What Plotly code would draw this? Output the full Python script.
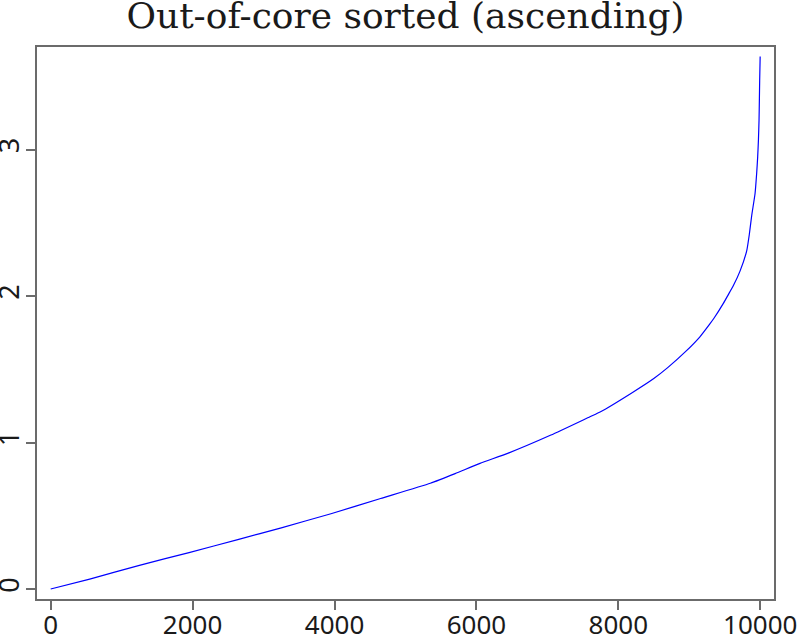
import plotly.graph_objects as go

# values (sorted sample, ascending)
sample_index = [0, 550, 1250, 1950, 2650, 3250, 3950, 4650, 5350, 5700, 6050, 6450,
                7050, 7600, 7750, 8200, 8500, 8700, 8950, 9150, 9290, 9350, 9480,
                9550, 9620, 9715, 9810, 9846, 9880, 9927, 9950, 9964, 9975, 9983,
                9988, 9992, 9999]
sorted_value = [0.0, 0.068, 0.162, 0.249, 0.339, 0.418, 0.514, 0.618, 0.722, 0.788,
                0.858, 0.928, 1.051, 1.176, 1.210, 1.342, 1.437, 1.513, 1.622, 1.722,
                1.81, 1.85, 1.95, 2.01, 2.07, 2.17, 2.31, 2.42, 2.55, 2.70, 2.84,
                2.95, 3.07, 3.20, 3.34, 3.47, 3.635]

x_ticks = [0, 2000, 4000, 6000, 8000, 10000]
x_tick_text = ["0", "2000", "4000", "6000", "8000", "10000"]
y_ticks = [0, 1, 2, 3]

frame_color = "#6b6b6b"
text_color = "#1a1a1a"

fig = go.Figure(
    go.Scatter(
        x=sample_index,
        y=sorted_value,
        mode="lines",
        line=dict(color="#0000ff", width=1.2, shape="spline", smoothing=0.5),
        showlegend=False,
    )
)

axis_style = dict(
    showline=True,
    mirror=True,
    linecolor=frame_color,
    linewidth=2,
    ticks="outside",
    ticklen=9,
    tickwidth=1.5,
    tickcolor=frame_color,
    showgrid=False,
    zeroline=False,
    automargin=False,
)

fig.update_xaxes(range=[-193, 10194], tickvals=x_ticks, ticktext=x_tick_text,
                 ticklabelstandoff=-7,
                 tickfont=dict(family="Noto Sans", size=26, color=text_color),
                 **axis_style)
fig.update_yaxes(range=[-0.068, 3.70], tickvals=y_ticks, tickangle=-90,
                 ticklabelstandoff=-4,
                 tickfont=dict(family="Noto Sans", size=27, color=text_color),
                 **axis_style)

fig.update_layout(
    width=802,
    height=635,
    margin=dict(l=37, r=28, t=47, b=36),
    plot_bgcolor="white",
    paper_bgcolor="white",
    title=dict(
        text="Out-of-core sorted (ascending)",
        x=0.5056,
        xanchor="center",
        y=0.975,
        yanchor="middle",
        yref="container",
        font=dict(family="DejaVu Serif", size=36, color=text_color),
    ),
)

# the page body has a default 8px margin; drop it so the figure fills the window
fig.write_html("out.html", config={"displayModeBar": False},
               post_script="document.body.style.margin='0';")
